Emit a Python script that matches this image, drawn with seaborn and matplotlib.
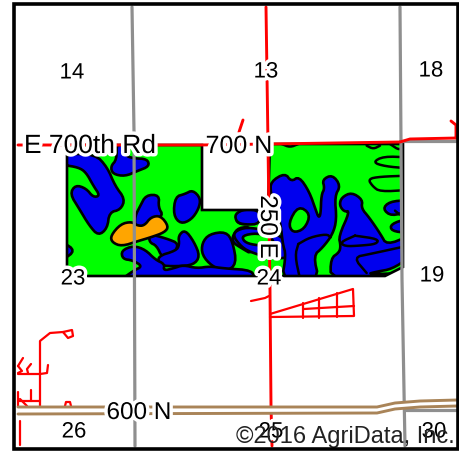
import numpy as np
import matplotlib
matplotlib.use("Agg")
import matplotlib.pyplot as plt
import matplotlib.patheffects as pe
from matplotlib.patches import Polygon, Rectangle
import seaborn as sns

sns.set_style("white")
plt.rcParams['font.family'] = ['Liberation Sans', 'DejaVu Sans']

GREEN, BLUE, ORANGE = "#00ff00", "#0000ee", "#ffa500"
RED, GRAY, BROWN = "#ff0000", "#8f8f8f", "#a98458"

# Field boundary (map coordinates)
field = [(67,146),(202,146),(202,211),(268,211),(270,145),(403,145),(403,268),(385,277),(67,277)]

# Soil zones, traced in two windows of the map
west_origin = (50,130)
west_blue = [
 [(40,75),(135,75),(172,115),(195,170),(225,210),(212,242),(178,250),(172,298),(145,320),(118,290),(88,240),(60,195),(76,168),(108,178),(130,205),(150,200),(130,170),(108,130),(85,115),(40,108)],
 [(200,40),(226,40),(226,80),(250,88),(292,90),(298,112),(262,126),(225,142),(188,135),(182,112),(200,92)],
 [(288,198),(328,198),(325,235),(340,260),(302,280),(288,305),(255,295),(255,262),(270,232)],
 [(376,203),(405,195),(428,183),(452,208),(446,240),(424,272),(392,285),(370,258)],
 [(298,315),(348,328),(390,345),(360,385),(336,385),(320,350),(298,340)],
 [(385,320),(405,302),(432,338),(450,382),(430,408),(380,412),(330,410),(322,382),(378,365),(388,348)],
 [(478,315),(528,308),(548,338),(560,405),(528,428),(486,412),(456,378),(456,342)],
 [(214,365),(250,350),(286,362),(316,392),(344,405),(340,425),(370,418),(400,408),(440,418),(480,412),(520,418),(610,424),(610,455),(210,455),(250,425),(278,412),(248,394),(218,390)],
 [(548,320),(566,295),(610,295),(610,378),(572,356),(548,340)],
 [(555,268),(610,240),(610,285),(568,286)],
 [(40,340),(76,365),(40,392)],
]
west_orange = [(182,320),(212,285),(245,278),(262,290),(283,290),(303,264),(332,260),(356,292),(344,310),(302,325),(265,336),(215,352),(186,340)]

east_origin = (230,130)
east_blue = [
 [(14,255),(45,240),(90,245),(90,285),(45,287),(20,280)],
 [(5,315),(40,295),(90,300),(130,310),(175,338),(186,384),(130,390),(68,372),(35,355)],
 [(122,158),(165,132),(184,158),(207,142),(238,188),(258,245),(266,266),(272,256),(274,198),(284,178),(277,152),(307,137),(332,170),(314,202),(320,272),(308,316),(278,356),(250,380),(268,455),(155,455),(168,378),(158,344),(152,284),(132,220),(122,192)],
 [(335,205),(365,190),(398,212),(394,238),(418,266),(452,316),(470,348),(535,322),(535,455),(302,455),(302,388),(328,370),(332,350),(326,322),(360,246),(342,248),(328,228)],
 [(458,240),(478,218),(535,213),(535,245),(485,262)],
 [(482,285),(535,268),(535,312),(484,306)],
]
east_green = [
 [(36,320),(80,312),(124,324),(136,352),(70,348),(42,338)],
 [(175,282),(205,230),(242,255),(224,300),(188,312)],
 [(486,420),(535,388),(535,432),(410,436),(440,428)],
]
east_contours = [
 [(535,85),(460,82),(428,100),(465,112),(535,118)],
 [(535,140),(450,143),(414,150),(428,172),(450,188),(535,183)],
 [(205,345),(240,325),(290,315),(302,325)],
 [(205,345),(195,380),(210,450)],
 [(375,320),(330,340),(345,352),(390,350),(440,345),(445,330),(375,320)],
 [(535,350),(420,375),(370,385),(410,432)],
 [(155,45),(180,55),(205,45)],
 [(480,45),(510,65),(520,45)],
 [(495,245),(515,262),(535,245)],
 [(410,50),(430,60),(450,50)],
]

# Roads and section lines (map coordinates)
gray_lines = [
 [(132,8),(134,132),(135,447)],
 [(400,8),(401,145),(402,280),(405,447)],
 [(405,411),(457,411)],
 [(400,142),(457,142)],
]
red_lines = [
 [(266,8),(268,145),(270,292),(271,407),(272,447)],
 [(18,146),(157,146),(200,146),(268,145),(400,143),(410,140),(457,139)],
 [(451,122),(456,126),(456,139)],
 [(239,133),(243,121)],
 # small roads to the south west
 [(40,408),(40,342),(50,334),(63,333),(72,331),(73,337),(68,339),(63,333)],
 [(18,375),(40,375),(47,374),(48,366)],
 [(18,367),(23,359)],
 [(18,367),(22,372),(18,374)],
 [(28,374),(27,370),(31,365)],
 [(18,402),(40,402)],
 [(18,393),(18,408)],
 [(31,391),(31,402)],
 [(20,400),(27,407)],
 [(65,407),(66,403),(70,403),(71,407)],
 [(20,422),(20,446)],
 # subdivision east of 250 E
 [(251,302),(265,299),(269,297)],
 [(270,315),(353,290),(354,317),(270,318)],
 [(303,304),(303,319)],
 [(319,299),(319,319)],
 [(337,294),(337,318)],
 [(304,310),(354,307)],
]
road_600_north = [(18,408),(377,408),(395,404),(420,402),(457,401)]
road_600_south = [(18,415),(377,414),(395,410),(420,408),(457,407)]

section_numbers = ["14", "13", "18", "23", "24", "19", "26", "25", "30"]
section_x = [72, 266, 431, 73, 269, 432, 74, 271, 434]
section_y = [74, 73, 72, 280, 280, 277, 433, 433, 433]
road_names = ["E 700th Rd", "700 N", "600 N", "250 E"]
road_x = [90, 239, 139, 267]
road_y = [147, 147, 414, 228]
road_sizes = [19, 18, 17.5, 17.5]
road_rotation = [0, 0, 0, 270]
copyright_text = "©2016 AgriData, Inc."


def smooth(points, rounds=2):
    pts = np.asarray(points, float)
    for _ in range(rounds):
        nxt = np.roll(pts, -1, axis=0)
        pts = np.column_stack([0.75*pts + 0.25*nxt, 0.25*pts + 0.75*nxt]).reshape(-1, 2)
    return pts


def smooth_open(points, rounds=2):
    pts = np.asarray(points, float)
    for _ in range(rounds):
        a, b = pts[:-1], pts[1:]
        mid = np.column_stack([0.75*a + 0.25*b, 0.25*a + 0.75*b]).reshape(-1, 2)
        pts = np.vstack([pts[:1], mid, pts[-1:]])
    return pts


def window(points, origin):
    return np.asarray(points, float) / 3 + np.asarray(origin, float)


def line(ax, points, color, lw, z):
    pts = np.asarray(points, float)
    sns.lineplot(x=pts[:, 0], y=pts[:, 1], sort=False, estimator=None, ax=ax,
                 color=color, lw=lw, zorder=z)


fig = plt.figure(figsize=(4.6, 4.52), dpi=100)
ax = fig.add_axes([0, 0, 1, 1])
ax.set_xlim(0, 460)
ax.set_ylim(452, 0)
ax.axis("off")

clip = Polygon(field, closed=True, facecolor=GREEN, edgecolor="none", zorder=1)
ax.add_patch(clip)


def blob(points, origin, face, z=2):
    p = Polygon(smooth(window(points, origin)), closed=True, facecolor=face,
                edgecolor="black", lw=1.9, joinstyle="round", zorder=z)
    ax.add_patch(p)
    p.set_clip_path(clip)


for b in west_blue:
    blob(b, west_origin, BLUE)
blob(west_orange, west_origin, ORANGE, z=3)
for b in east_blue:
    blob(b, east_origin, BLUE)
for b in east_green:
    blob(b, east_origin, GREEN, z=3)
for c in east_contours:
    pts = window(smooth_open(c), east_origin)
    l, = ax.plot(pts[:, 0], pts[:, 1], color="black", lw=1.8, zorder=3,
                 solid_capstyle="round", solid_joinstyle="round")
    l.set_clip_path(clip)

ax.add_patch(Polygon(field, closed=True, facecolor="none", edgecolor="black", lw=1.9, zorder=4))

for g in gray_lines:
    line(ax, g, GRAY, 2.3, 5)
for r in red_lines[:4]:
    line(ax, r, RED, 2.1, 6)
for r in red_lines[4:]:
    line(ax, r, RED, 1.6, 6)

north = np.asarray(road_600_north, float)
south = np.asarray(road_600_south, float)
ax.fill_between(north[:, 0], north[:, 1], np.interp(north[:, 0], south[:, 0], south[:, 1]),
                color="white", zorder=7, lw=0)
line(ax, road_600_north, BROWN, 2.1, 8)
line(ax, road_600_south, BROWN, 2.1, 8)

halo = [pe.withStroke(linewidth=5, foreground="white")]
for s, x, y in zip(section_numbers, section_x, section_y):
    ax.text(x, y, s, fontsize=16, ha="center", va="center", color="black",
            path_effects=halo, zorder=10)
for s, x, y, rot, fs in zip(road_names, road_x, road_y, road_rotation, road_sizes):
    ax.text(x, y, s, fontsize=fs, ha="center", va="center", color="black", rotation=rot,
            path_effects=halo, zorder=11)
ax.text(455, 437, copyright_text, fontsize=17, ha="right", va="center", color="#222222", zorder=12)

ax.add_patch(Rectangle((14.5, 4.5), 443.5, 445.5, facecolor="none", edgecolor="black", lw=2.6, zorder=20))

fig.savefig("out.png", dpi=100)
